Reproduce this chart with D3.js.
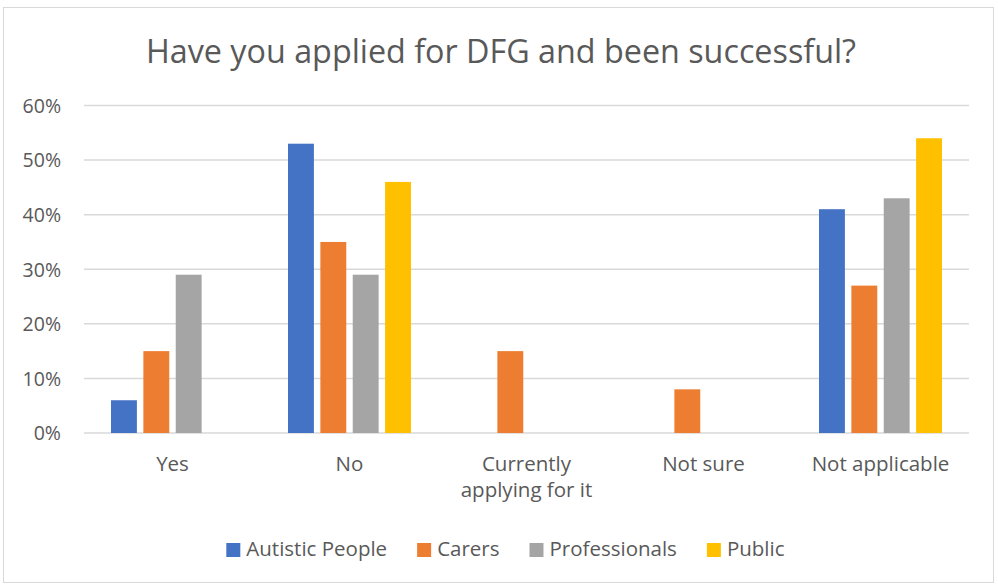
<!DOCTYPE html>
<html><head><meta charset="utf-8">
<script src="https://cdn.jsdelivr.net/npm/d3@7"></script>
<style>body{margin:0;background:#fff}svg{display:block}</style>
</head><body><svg id="c" width="998" height="585"></svg>
<script>
const title = "Have you applied for DFG and been successful?";
const categories = ["Yes", "No", "Currently applying for it", "Not sure", "Not applicable"];
const categoryLines = [["Yes"], ["No"], ["Currently", "applying for it"], ["Not sure"], ["Not applicable"]];
const seriesNames = ["Autistic People", "Carers", "Professionals", "Public"];
const autistic = [0.06, 0.53, 0, 0, 0.41];
const carers = [0.15, 0.35, 0.15, 0.08, 0.27];
const professionals = [0.29, 0.29, 0, 0, 0.43];
const publicVals = [0, 0.46, 0, 0, 0.54];
const seriesValues = [autistic, carers, professionals, publicVals];
const colors = ["#4472C4", "#ED7D31", "#A5A5A5", "#FFC000"];
const yTicks = [0, 0.1, 0.2, 0.3, 0.4, 0.5, 0.6];

const svg = d3.select("#c");
const font = "'Open Sans', 'Noto Sans', sans-serif";
const textCol = "#595959";

svg.append("rect").attr("x", 3.5).attr("y", 7.5).attr("width", 990).attr("height", 575)
  .attr("fill", "#fff").attr("stroke", "#d9d9d9").attr("stroke-width", 1);

svg.append("text").attr("x", 501).attr("y", 63).attr("text-anchor", "middle")
  .attr("font-family", font).attr("font-size", 32.3).attr("fill", textCol).text(title);

const pLeft = 84, pRight = 969, pTop = 105.5, pBottom = 433;
const y = d3.scaleLinear().domain([0, 0.6]).range([pBottom, pTop]);
const x0 = d3.scaleBand().domain(categories).range([pLeft, pRight]).paddingInner(0).paddingOuter(0);
const x1 = d3.scaleBand().domain(seriesNames).range([27, x0.bandwidth() - 27]).paddingInner(0.2).paddingOuter(0);

// gridlines
svg.append("g").selectAll("line").data(yTicks).join("line")
  .attr("x1", pLeft).attr("x2", pRight).attr("y1", d => y(d)).attr("y2", d => y(d))
  .attr("stroke", "#d9d9d9").attr("stroke-width", 1.5);

// y labels
const yAxis = d3.axisLeft(y).tickValues(yTicks).tickFormat(d3.format(".0%")).tickSize(0).tickPadding(0);
const ya = svg.append("g").attr("transform", `translate(61,0)`).call(yAxis);
ya.select(".domain").remove();
ya.selectAll("text").attr("font-family", font).attr("font-size", 19.5).attr("fill", textCol).attr("dy", "0.35em");

// bars
const groups = svg.append("g").selectAll("g").data(categories).join("g")
  .attr("transform", d => `translate(${x0(d)},0)`);
groups.selectAll("rect").data((c, i) => seriesNames.map((s, j) => ({s, v: seriesValues[j][i], j})))
  .join("rect")
  .attr("x", d => x1(d.s)).attr("width", x1.bandwidth())
  .attr("y", d => y(d.v)).attr("height", d => pBottom - y(d.v))
  .attr("fill", d => colors[d.j]);

// x labels
const xl = svg.append("g").selectAll("text").data(categories).join("text")
  .attr("x", d => x0(d) + x0.bandwidth() / 2).attr("y", 471)
  .attr("text-anchor", "middle").attr("font-family", font).attr("font-size", 20.5).attr("fill", textCol);
xl.each(function(d, i) {
  d3.select(this).selectAll("tspan").data(categoryLines[i]).join("tspan")
    .attr("x", x0(d) + x0.bandwidth() / 2).attr("dy", (t, k) => k === 0 ? 0 : 26).text(t => t);
});

// legend
const legend = svg.append("g");
const lgItems = legend.selectAll("g").data(seriesNames).join("g");
lgItems.append("rect").attr("width", 14).attr("height", 14).attr("y", -13).attr("fill", (d, i) => colors[i]);
lgItems.append("text").attr("x", 20).attr("font-family", font).attr("font-size", 20.5).attr("fill", textCol).text(d => d);
const widths = [];
lgItems.each(function() { widths.push(this.getBBox().width); });
const gap = 30;
const total = d3.sum(widths) + gap * (widths.length - 1);
let lx = 0;
lgItems.attr("transform", (d, i) => { const t = `translate(${lx},0)`; lx += widths[i] + gap; return t; });
legend.attr("transform", `translate(${(227 + 784) / 2 - total / 2},556)`);
</script></body></html>
